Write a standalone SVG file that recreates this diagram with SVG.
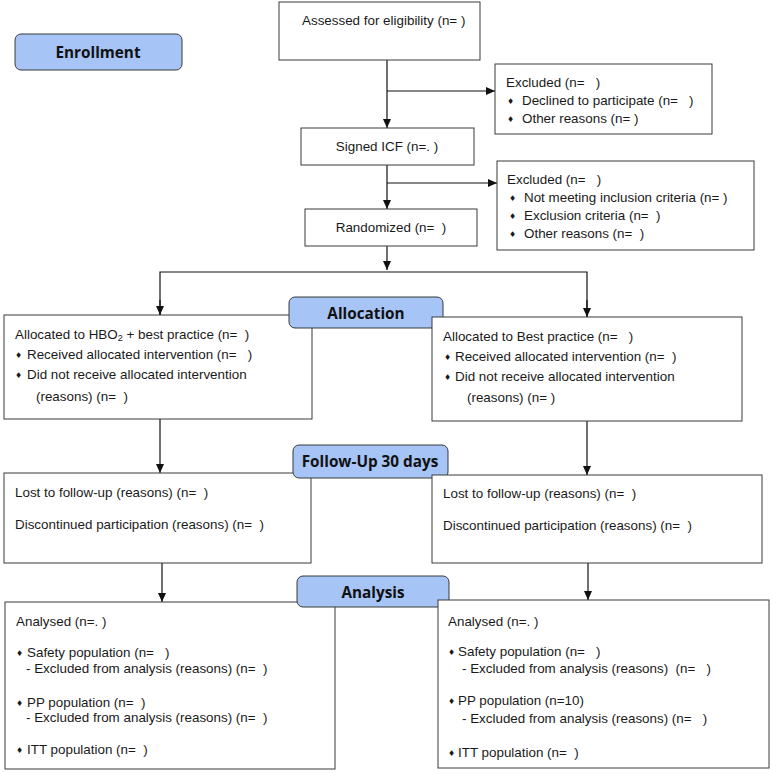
<svg xmlns="http://www.w3.org/2000/svg" width="772" height="773" viewBox="0 0 772 773">
<style>
.box{fill:#fff;stroke:#3a3a3a;stroke-width:1}
.hdr{fill:#a6c4f6;stroke:#3a3a3a;stroke-width:1}
text{white-space:pre}
.t{font-family:"Liberation Sans",Arial,sans-serif;font-size:13.4px;fill:#1a1a1a}
.h{font-family:"Open Sans","Liberation Sans",sans-serif;font-size:15.3px;font-weight:bold;fill:#111;text-anchor:middle}
.b{font-family:"DejaVu Sans",sans-serif;font-size:8px;fill:#1a1a1a}
.c{fill:none;stroke:#111;stroke-width:1.2}
</style>
<defs>
<marker id="a" markerWidth="10" markerHeight="10" refX="9" refY="5" orient="auto" markerUnits="userSpaceOnUse">
<path d="M0,1 L9,5 L0,9 Z" fill="#111"/>
</marker>
</defs>
<rect width="772" height="773" fill="#fff"/>

<g id="connectors">
<line class="c" x1="387" y1="60" x2="387" y2="128" marker-end="url(#a)"/>
<line class="c" x1="387" y1="91" x2="495" y2="91" marker-end="url(#a)"/>
<line class="c" x1="387" y1="165" x2="387" y2="209" marker-end="url(#a)"/>
<line class="c" x1="387" y1="183" x2="497" y2="183" marker-end="url(#a)"/>
<line class="c" x1="387" y1="246" x2="387" y2="270" marker-end="url(#a)"/>
<polyline class="c" points="160,315 160,272 587,272 587,317"/>
<line class="c" x1="160" y1="300" x2="160" y2="315" marker-end="url(#a)"/>
<line class="c" x1="587" y1="300" x2="587" y2="317" marker-end="url(#a)"/>
<line class="c" x1="160" y1="419" x2="160" y2="473" marker-end="url(#a)"/>
<line class="c" x1="587" y1="421" x2="587" y2="475" marker-end="url(#a)"/>
<line class="c" x1="162" y1="563" x2="162" y2="602" marker-end="url(#a)"/>
<line class="c" x1="588" y1="563" x2="588" y2="600" marker-end="url(#a)"/>
</g>

<g id="enrollment">
<rect class="hdr" x="15" y="34" width="167" height="36" rx="6"/>
<text class="h" x="98" y="58">Enrollment</text>
</g>

<g id="assessed">
<rect class="box" x="279" y="2" width="201" height="58"/>
<text class="t" x="302" y="25">Assessed for eligibility (n= )</text>
</g>

<g id="excluded1">
<rect class="box" x="495" y="64" width="217" height="70"/>
<text class="t" x="506" y="87">Excluded (n=   )</text>
<text class="b" x="507" y="104">♦</text>
<text class="t" x="522" y="105">Declined to participate (n=   )</text>
<text class="b" x="507" y="122">♦</text>
<text class="t" x="522" y="123">Other reasons (n= )</text>
</g>

<g id="signed">
<rect class="box" x="301" y="128" width="173" height="37"/>
<text class="t" x="387" y="151" text-anchor="middle">Signed ICF (n=. )</text>
</g>

<g id="excluded2">
<rect class="box" x="497" y="161" width="257" height="89"/>
<text class="t" x="507" y="184">Excluded (n=   )</text>
<text class="b" x="509" y="201">♦</text>
<text class="t" x="524" y="202">Not meeting inclusion criteria (n= )</text>
<text class="b" x="509" y="219">♦</text>
<text class="t" x="524" y="220">Exclusion criteria (n=  )</text>
<text class="b" x="509" y="237">♦</text>
<text class="t" x="524" y="238">Other reasons (n=  )</text>
</g>

<g id="randomized">
<rect class="box" x="305" y="209" width="172" height="37"/>
<text class="t" x="391" y="232" text-anchor="middle">Randomized (n=  )</text>
</g>

<g id="alloc_left">
<rect class="box" x="4" y="315" width="308" height="104"/>
<text class="t" x="15" y="339">Allocated to HBO<tspan font-size="9px" dy="2">2</tspan><tspan dy="-2"> + best practice (n=  )</tspan></text>
<text class="b" x="15" y="358">♦</text>
<text class="t" x="27" y="359">Received allocated intervention (n=   )</text>
<text class="b" x="15" y="378">♦</text>
<text class="t" x="27" y="379">Did not receive allocated intervention</text>
<text class="t" x="36" y="401">(reasons) (n=  )</text>
</g>

<g id="allocation">
<rect class="hdr" x="289" y="297" width="154" height="31" rx="6"/>
<text class="h" x="366" y="319">Allocation</text>
</g>

<g id="alloc_right">
<rect class="box" x="432" y="317" width="310" height="104"/>
<text class="t" x="443" y="341">Allocated to Best practice (n=   )</text>
<text class="b" x="444" y="360">♦</text>
<text class="t" x="455" y="361">Received allocated intervention (n=  )</text>
<text class="b" x="444" y="380">♦</text>
<text class="t" x="455" y="381">Did not receive allocated intervention</text>
<text class="t" x="467" y="402">(reasons) (n= )</text>
</g>

<g id="follow_left">
<rect class="box" x="4" y="473" width="307" height="90"/>
<text class="t" x="15" y="497">Lost to follow-up (reasons) (n=  )</text>
<text class="t" x="15" y="529">Discontinued participation (reasons) (n=  )</text>
</g>

<g id="followup">
<rect class="hdr" x="293" y="445" width="155" height="33" rx="6"/>
<text class="h" x="370" y="467">Follow-Up 30 days</text>
</g>

<g id="follow_right">
<rect class="box" x="432" y="475" width="330" height="88"/>
<text class="t" x="443" y="498">Lost to follow-up (reasons) (n=  )</text>
<text class="t" x="443" y="530">Discontinued participation (reasons) (n=  )</text>
</g>

<g id="analysis_left">
<rect class="box" x="5" y="602" width="330" height="167"/>
<text class="t" x="16" y="626">Analysed (n=. )</text>
<text class="b" x="16" y="656">♦</text>
<text class="t" x="27" y="657">Safety population (n=   )</text>
<text class="t" x="26" y="673">- Excluded from analysis (reasons) (n=  )</text>
<text class="b" x="16" y="706">♦</text>
<text class="t" x="27" y="707">PP population (n=  )</text>
<text class="t" x="26" y="722">- Excluded from analysis (reasons) (n=  )</text>
<text class="b" x="16" y="753">♦</text>
<text class="t" x="27" y="754">ITT population (n=  )</text>
</g>

<g id="analysis">
<rect class="hdr" x="297" y="576" width="152" height="31" rx="6"/>
<text class="h" x="373" y="598">Analysis</text>
</g>

<g id="analysis_right">
<rect class="box" x="438" y="600" width="331" height="168"/>
<text class="t" x="448" y="626">Analysed (n=. )</text>
<text class="b" x="448" y="655">♦</text>
<text class="t" x="458" y="656">Safety population (n=   )</text>
<text class="t" x="462" y="673">- Excluded from analysis (reasons)  (n=   )</text>
<text class="b" x="448" y="704">♦</text>
<text class="t" x="458" y="705">PP population (n=10)</text>
<text class="t" x="462" y="723">- Excluded from analysis (reasons) (n=   )</text>
<text class="b" x="448" y="756">♦</text>
<text class="t" x="458" y="757">ITT population (n=  )</text>
</g>
</svg>
